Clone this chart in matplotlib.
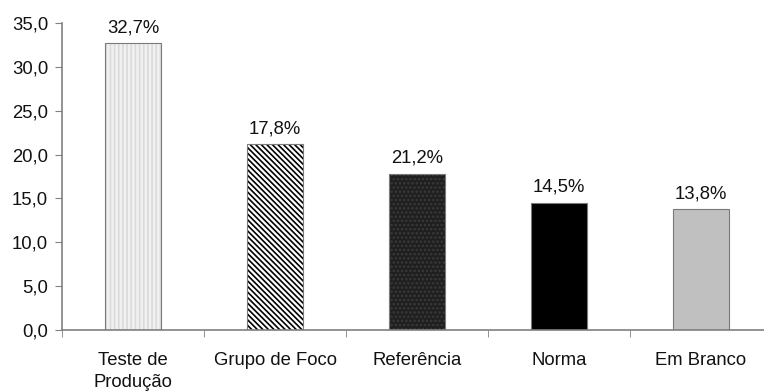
import matplotlib
matplotlib.use("Agg")
import matplotlib.pyplot as plt

plt.rcParams['font.family'] = ['Liberation Sans', 'DejaVu Sans']

categories = ["Teste de\nProdução", "Grupo de Foco", "Referência", "Norma", "Em Branco"]
values = [32.7, 21.2, 17.8, 14.5, 13.8]
value_labels = ["32,7%", "17,8%", "21,2%", "14,5%", "13,8%"]
yticks = [0, 5, 10, 15, 20, 25, 30, 35]

faces = ['#f1f1f1', 'white', '#1f1f1f', 'black', '#c0c0c0']
hatches = ['||||', '\\\\\\\\\\\\', '....', None, None]
hatch_colors = ['#dadada', 'black', '#3a3a3a', 'black', '#c0c0c0']

FS = 13.3
TXT = '#111111'

fig = plt.figure(figsize=(7.64, 3.92), dpi=100)
ax = fig.add_axes([62 / 764, 62 / 392, 710 / 764, 307 / 392])

x = list(range(len(categories)))
plt.rcParams['hatch.linewidth'] = 1.2
for i, v in enumerate(values):
    ax.bar(x[i], v, width=0.4, color=faces[i], hatch=hatches[i],
           edgecolor=hatch_colors[i], linewidth=0, zorder=2)
    ax.bar(x[i], v, width=0.4, fill=False, edgecolor='#7a7a7a',
           linewidth=0.8, zorder=3)
    ax.annotate(value_labels[i], (x[i], v), xytext=(0, 5),
                textcoords='offset points', ha='center', va='bottom',
                fontsize=FS, color=TXT)

ax.set_xlim(-0.5, 4.5)
ax.set_ylim(0, 35)
ax.set_yticks(yticks)
ax.set_yticklabels([f"{t:.1f}".replace('.', ',') for t in yticks],
                   fontsize=FS, color=TXT)
ax.set_xticks(x)
ax.set_xticklabels(categories, fontsize=FS, color=TXT, linespacing=1.35)
ax.tick_params(axis='x', length=0, pad=16)
ax.set_xticks([i + 0.5 for i in range(-1, 4)], minor=True)
ax.tick_params(axis='x', which='minor', length=5, color='#808080', direction='out')
ax.tick_params(axis='y', length=5, color='#808080', direction='out', pad=5)

for s in ['top', 'right']:
    ax.spines[s].set_visible(False)
for s in ['left', 'bottom']:
    ax.spines[s].set_color('#808080')
    ax.spines[s].set_linewidth(1.2)

fig.savefig("out.png", dpi=100)
